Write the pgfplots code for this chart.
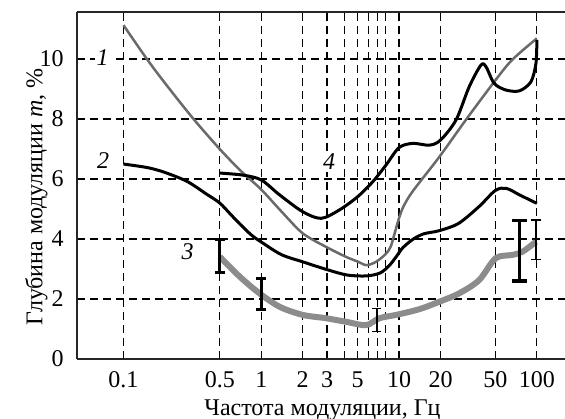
\documentclass[border=0pt]{standalone}
\usepackage{fontspec}
\setmainfont{Liberation Serif}
\usepackage{pgfplots}
\pgfplotsset{compat=1.18}
\definecolor{gA}{HTML}{6A6A6A}
\definecolor{gC}{HTML}{8C8C8C}
\begin{document}
\fontsize{12}{14}\selectfont
\begin{tikzpicture}
\begin{axis}[
  scale only axis, width=244pt, height=173.5pt,
  xmode=log, xmin=0.046, xmax=160, ymin=0, ymax=11.57,
  axis y line*=left,
  axis line style={line width=0.9pt, color=black!85},
  xtick={0.1,0.5,1,2,3,4,5,6,7,8,10,20,50,100},
  xticklabels={0.1,0.5,1,2,3,,5,,,,10,20,50,100},
  ytick={0,2,4,6,8,10},
  major tick length=0pt,
  xticklabel style={yshift=-2pt},
  yticklabel style={xshift=-2.5pt},
  grid=major,
  major grid style={black, dash pattern=on 4pt off 2.5pt, line width=0.6pt},
  /pgf/number format/assume math mode=true,
  xlabel={Частота модуляции, Гц},
  ylabel={Глубина модуляции \textit{m}, \%},
  xlabel style={at={(axis description cs:0.503,-0.163)}, anchor=base},
  ylabel style={at={(axis description cs:-0.083,0.468)}, anchor=center},
  clip=false,
]
% curve 1
\addplot[gA, line width=1.25pt, smooth] coordinates {
(0.1,11.13) (0.147,10.02) (0.2,9.2) (0.32,8.02) (0.5,7.0) (0.7,6.3) (1,5.65) (1.4,4.92) (2,4.19) (2.95,3.74) (4.1,3.41) (5.0,3.25) (5.8,3.13) (6.8,3.24) (8.0,3.5) (8.7,3.75) (9.3,4.2) (10,4.7) (10.8,5.1) (12.6,5.6) (19.6,6.74) (30.5,7.97) (49,9.24) (66,9.97) (100,10.69)};
% curve 2
\addplot[black, line width=1.5pt, smooth] coordinates {
(0.1,6.5) (0.15,6.38) (0.2,6.22) (0.29,5.92) (0.4,5.5) (0.5,5.2) (0.6,4.82) (0.7,4.5) (0.85,4.13) (1,3.9) (1.4,3.48) (2,3.24) (3,2.98) (4.2,2.8) (5.8,2.77) (7.3,2.87) (8.5,3.12) (9.5,3.4) (10.6,3.7) (12.5,3.98) (15,4.17) (19.6,4.28) (27,4.52) (38,5.08) (50,5.62) (60,5.69) (75,5.47) (100,5.19)};
% curve 4
\addplot[black, line width=1.5pt, smooth] coordinates {
(0.5,6.2) (0.74,6.13) (1,5.97) (1.36,5.47) (2,4.91) (2.72,4.69) (3.69,4.97) (5,5.41) (6.44,5.91) (8.05,6.47) (10,7.05) (12.6,7.19) (16.6,7.13) (20,7.3) (25.9,7.97) (32.3,9.08) (39.3,9.8) (42.8,9.74) (49,9.19) (59.5,8.97) (74.6,8.94) (90.5,9.24) (98.5,9.86) (100,10.63)};
% curve 3
\addplot[gC, line width=3pt, smooth] coordinates {
(0.5,3.41) (0.7,2.74) (0.97,2.19) (1.36,1.74) (2,1.47) (2.95,1.36) (4.13,1.24) (5.76,1.13) (7.2,1.36) (9.5,1.47) (14,1.66) (19.6,1.91) (27.3,2.19) (38.1,2.63) (50.2,3.36) (66.4,3.47) (78.9,3.58) (98.5,3.91)};
% error bars
\addplot[black, line width=1.5pt, mark=-, mark size=2.5pt] coordinates {(0.5,2.88) (0.5,3.99)};
\addplot[black, line width=1.5pt, mark=-, mark size=2.5pt] coordinates {(1,1.66) (1,2.67)};
\addplot[black, line width=0.8pt, mark=-, mark size=2.25pt] coordinates {(6.9,0.92) (6.9,1.68)};
\addplot[black, line width=1.6pt, mark=-, mark size=3.75pt] coordinates {(74.8,2.6) (74.8,4.61)};
\addplot[black, line width=0.8pt, mark=-, mark size=2.5pt] coordinates {(99,3.32) (99,4.63)};
\node[font=\itshape, fill=white, inner sep=1pt] at (axis cs:0.0706,10.05) {1};
\node[font=\itshape, fill=white, inner sep=1pt] at (axis cs:0.0712,6.63) {2};
\node[font=\itshape, fill=white, inner sep=1pt] at (axis cs:0.292,3.58) {3};
\node[font=\itshape, fill=white, inner sep=1pt] at (axis cs:3.11,6.58) {4};
\end{axis}
\pgfresetboundingbox
\path[use as bounding box] ([xshift=-38.5pt,yshift=-29.5pt]current axis.south west) rectangle ([yshift=6pt]current axis.north east);
\end{tikzpicture}
\end{document}
